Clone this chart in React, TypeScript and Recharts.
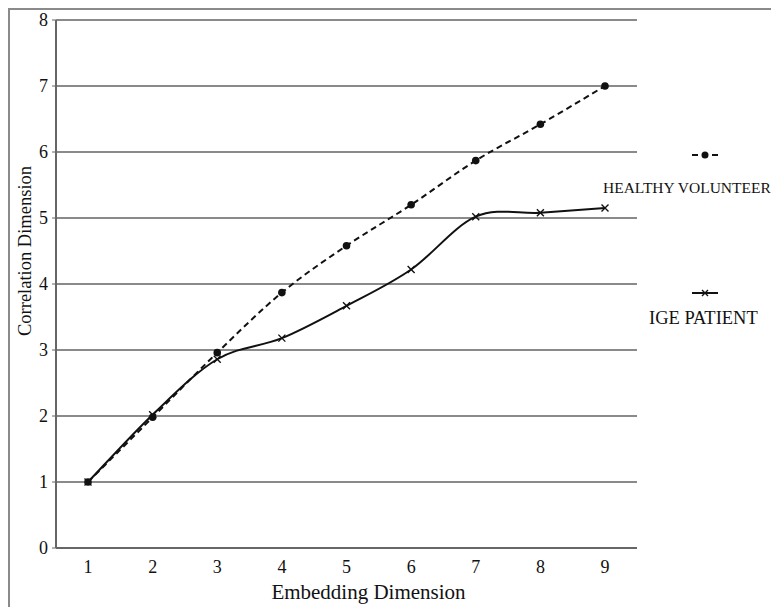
import { LineChart, Line, XAxis, YAxis, CartesianGrid } from 'recharts';

const dims = [1, 2, 3, 4, 5, 6, 7, 8, 9];
const healthy = [1.0, 1.98, 2.96, 3.87, 4.58, 5.2, 5.87, 6.42, 7.0];
const ige = [1.0, 2.02, 2.86, 3.18, 3.67, 4.22, 5.02, 5.08, 5.15];
const yTicks = [0, 1, 2, 3, 4, 5, 6, 7, 8];

const FONT = '"Liberation Serif", "Times New Roman", serif';

const data = dims.map((d, i) => ({ dim: d, healthy: healthy[i], ige: ige[i] }));

// Catmull-Rom style smoothing, like the spreadsheet "smoothed line" option
const smoothCurve = (context: any) => {
  let pts: number[][] = [];
  return {
    areaStart() {},
    areaEnd() {},
    lineStart() {
      pts = [];
    },
    point(x: number, y: number) {
      pts.push([+x, +y]);
    },
    lineEnd() {
      if (!pts.length) return;
      context.moveTo(pts[0][0], pts[0][1]);
      for (let i = 0; i < pts.length - 1; i++) {
        const p0 = pts[i - 1] || pts[i];
        const p1 = pts[i];
        const p2 = pts[i + 1];
        const p3 = pts[i + 2] || p2;
        context.bezierCurveTo(
          p1[0] + (p2[0] - p0[0]) / 6,
          p1[1] + (p2[1] - p0[1]) / 6,
          p2[0] - (p3[0] - p1[0]) / 6,
          p2[1] - (p3[1] - p1[1]) / 6,
          p2[0],
          p2[1]
        );
      }
    },
  };
};

function CrossDot(props: any) {
  const { cx, cy, index } = props;
  if (cx == null || cy == null) return null;
  const s = 3.5;
  return (
    <path
      key={`x-${index}`}
      d={`M${cx - s},${cy - s}L${cx + s},${cy + s}M${cx - s},${cy + s}L${cx + s},${cy - s}`}
      stroke="#111"
      strokeWidth={1.4}
      fill="none"
    />
  );
}

function RoundDot(props: any) {
  const { cx, cy, index } = props;
  if (cx == null || cy == null) return null;
  return <circle key={`o-${index}`} cx={cx} cy={cy} r={3.8} fill="#111" />;
}

export default function App() {
  return (
    <div style={{ position: 'relative', width: 771, height: 599, fontFamily: FONT, background: '#fff' }}>
      <style>{`.recharts-text, .recharts-cartesian-axis-tick-value { font-family: ${FONT}; }`}</style>
      <LineChart
        width={771}
        height={599}
        data={data}
        margin={{ top: 12, right: 142, left: 0, bottom: 0 }}
        style={{ fontFamily: FONT }}
      >
        <CartesianGrid vertical={false} stroke="#8a8a8a" strokeWidth={2} />
        <XAxis
          dataKey="dim"
          height={59}
          padding={{ left: 32, right: 32 }}
          tickLine={false}
          tickSize={0}
          tickMargin={12}
          axisLine={{ stroke: '#666', strokeWidth: 2 }}
          tick={{ fontSize: 18, fill: '#111', fontFamily: FONT }}
          label={{
            content: ({ viewBox }: any) => (
              <text
                x={viewBox.x + viewBox.width / 2 + 22}
                y={viewBox.y + 44}
                textAnchor="middle"
                dominantBaseline="central"
                fontSize={21}
                fill="#111"
                fontFamily={FONT}
              >
                Embedding Dimension
              </text>
            ),
          }}
        />
        <YAxis
          width={48}
          domain={[0, 8]}
          ticks={yTicks}
          interval={0}
          tickSize={4}
          tickMargin={4}
          tickLine={{ stroke: '#666' }}
          axisLine={{ stroke: '#666', strokeWidth: 2 }}
          tick={{ fontSize: 18, fill: '#111', fontFamily: FONT }}
          label={{
            content: ({ viewBox }: any) => {
              const x = viewBox.x + 17;
              const y = viewBox.y + viewBox.height / 2 - 33;
              return (
                <text
                  x={x}
                  y={y}
                  transform={`rotate(-90, ${x}, ${y})`}
                  textAnchor="middle"
                  dominantBaseline="central"
                  fontSize={18.5}
                  fill="#111"
                  fontFamily={FONT}
                >
                  Correlation Dimension
                </text>
              );
            },
          }}
        />
        <Line
          dataKey="ige"
          type={smoothCurve as any}
          stroke="#111"
          strokeWidth={2}
          dot={<CrossDot />}
          activeDot={false}
          isAnimationActive={false}
        />
        <Line
          dataKey="healthy"
          type={smoothCurve as any}
          stroke="#111"
          strokeWidth={2}
          strokeDasharray="6 4"
          dot={<RoundDot />}
          activeDot={false}
          isAnimationActive={false}
        />
      </LineChart>

      {/* legend */}
      <div style={{ position: 'absolute', left: 590, top: 130, width: 181, height: 210, pointerEvents: 'none' }}>
        <svg width={30} height={12} style={{ position: 'absolute', left: 92, top: 11 }}>
          <line x1={2} y1={6} x2={28} y2={6} stroke="#111" strokeWidth={2} strokeDasharray="6 4" />
          <circle cx={15} cy={6} r={3.5} fill="#111" />
        </svg>
        <div style={{ position: 'absolute', left: 5, top: 41, fontSize: 15.5, color: '#111', whiteSpace: 'nowrap' }}>
          HEALTHY VOLUNTEER
        </div>
        <svg width={30} height={12} style={{ position: 'absolute', left: 92, top: 149 }}>
          <line x1={2} y1={6} x2={28} y2={6} stroke="#111" strokeWidth={2} />
          <path d="M12,3L18,9M12,9L18,3" stroke="#111" strokeWidth={1.4} />
        </svg>
        <div style={{ position: 'absolute', left: 51, top: 170, fontSize: 18.5, color: '#111', whiteSpace: 'nowrap' }}>
          IGE PATIENT
        </div>
      </div>

      {/* frame */}
      <div
        style={{
          position: 'absolute',
          left: 0,
          top: 0,
          width: 771,
          height: 599,
          boxSizing: 'border-box',
          borderTop: '2px solid #8a8a8a',
          borderLeft: '2px solid #8a8a8a',
          borderRight: '1px solid #e4e4e4',
          pointerEvents: 'none',
        }}
      />
    </div>
  );
}
